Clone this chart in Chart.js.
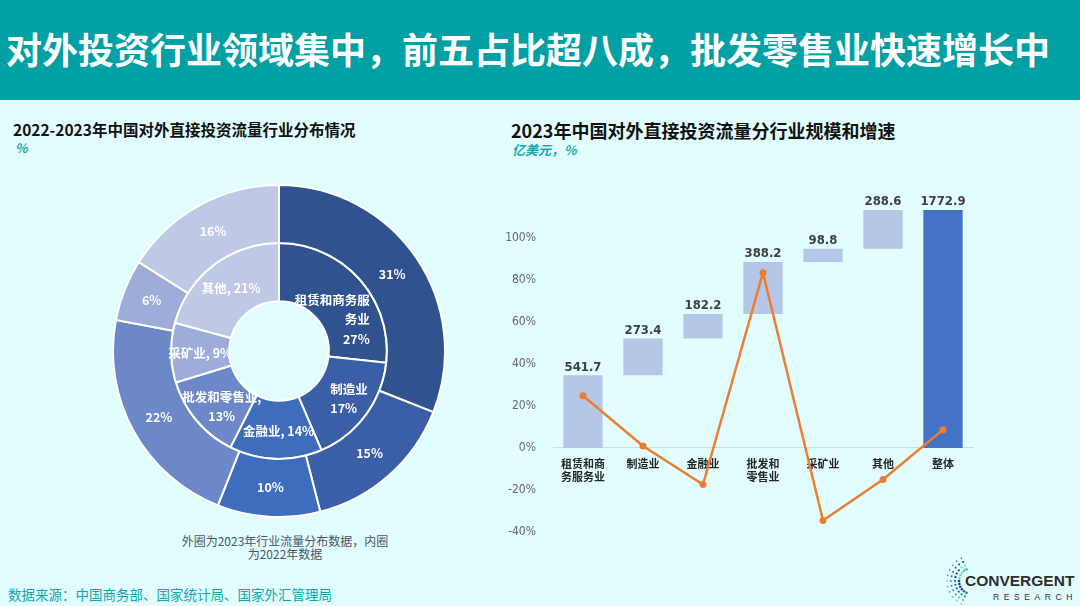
<!DOCTYPE html>
<html>
<head>
<meta charset="utf-8">
<script src="https://cdn.jsdelivr.net/npm/chart.js@4.4.1/dist/chart.umd.min.js"></script>
<style>
  body { margin: 0; width: 1080px; height: 606px; background: #e2fdfe; position: relative; overflow: hidden;
         font-family: "Noto Sans CJK SC", "Noto Sans", sans-serif; }
  .txt { position: absolute; white-space: nowrap; line-height: 1; }
  .header { position: absolute; left: 0; top: 0; width: 1080px; height: 100px; background: #00a0a4; }
  .title { font-size: 36px; font-weight: 700; color: #fff; left: 6px; top: 30px; }
  .ctitle { font-weight: 700; color: #111; }
  .csub { font-size: 13px; font-weight: 700; font-style: italic; color: #19a9ae; }
  .note { font-size: 12px; color: #4a5468; text-align: center; line-height: 13px; left: 160px; width: 250px; top: 534px; }
  .source { font-size: 13.5px; color: #12a6aa; left: 8px; top: 588px; }
  #pieBox { position: absolute; left: 112px; top: 184px; width: 334px; height: 334px; }
  #barBox { position: absolute; left: 490px; top: 172px; width: 490px; height: 384px; }
  .logo1 { font-family: "Liberation Sans", Arial, sans-serif; font-weight: 700; font-size: 15.5px; color: #2e2e2e; left: 965px; top: 573px; }
  .logo2 { font-family: "Liberation Sans", Arial, sans-serif; font-size: 8.5px; letter-spacing: 4.6px; color: #333; left: 993px; top: 593px; }
</style>
</head>
<body>
<div class="header"></div>
<div class="txt title">对外投资行业领域集中，前五占比超八成，批发零售业快速增长中</div>

<div class="txt ctitle" style="left:13px;top:122px;font-size:15.5px;">2022-2023年中国对外直接投资流量行业分布情况</div>
<div class="txt csub" style="left:15px;top:141px;">%</div>
<div class="txt ctitle" style="left:511px;top:121px;font-size:18px;">2023年中国对外直接投资流量分行业规模和增速</div>
<div class="txt csub" style="left:512px;top:143px;">亿美元，%</div>

<div id="pieBox"><canvas id="pie"></canvas></div>
<div id="barBox"><canvas id="bar"></canvas></div>

<div class="txt note">外圈为2023年行业流量分布数据，内圈<br>为2022年数据</div>
<div class="txt source">数据来源：中国商务部、国家统计局、国家外汇管理局</div>

<svg id="dots" style="position:absolute;left:940px;top:556px" width="40" height="50"></svg>
<div class="txt logo1">CONVERGENT</div>
<div class="txt logo2">RESEARCH</div>

<script>
// left: industry share of outward FDI flow (%)
const sectors = ['租赁和商务服务业', '制造业', '金融业', '批发和零售业', '采矿业', '其他'];
const share2023 = [31, 15, 10, 22, 6, 16];   // outer ring
const share2022 = [27, 17, 14, 13, 9, 21];   // inner ring
const sectorColors = ['#30528f', '#3a5fa6', '#3f6dbd', '#6c88c8', '#9eacd9', '#bfc8e5'];
// how the inner ring labels wrap, {v} is the value
const innerLabelText = ['租赁和商务服\n务业\n{v}%', '制造业\n{v}%', '金融业, {v}%', '批发和零售业,\n{v}%', '采矿业, {v}%', '其他, {v}%'];

// right: 2023 flow by industry (100m USD) and growth (%)
const barCategories = [['租赁和商', '务服务业'], '制造业', '金融业', ['批发和', '零售业'], '采矿业', '其他', '整体'];
const flow2023 = [541.7, 273.4, 182.2, 388.2, 98.8, 288.6, 1772.9];
const growth2023 = [24.9, 0.9, -17.5, 83.5, -34.6, -15.1, 8.7];
const pctTicks = [-40, -20, 0, 20, 40, 60, 80, 100];

const CJK = '"Noto Sans CJK SC", "Noto Sans", sans-serif';
const NARROW = '"Liberation Sans Narrow", "DejaVu Sans Condensed", sans-serif';

// ---------- doughnut ----------
const ringLabels = {
    id: 'ringLabels',
    afterDatasetsDraw(chart, args, opts) {
        const ctx = chart.ctx;
        ctx.save();
        ctx.fillStyle = '#fff';
        ctx.font = 'bold 12.5px ' + CJK;
        ctx.textBaseline = 'middle';
        // outer ring: just the value
        chart.getDatasetMeta(0).data.forEach((arc, i) => {
            const p = arc.tooltipPosition();
            ctx.textAlign = 'center';
            ctx.fillText(share2023[i] + '%', p.x, p.y);
        });
        // inner ring: name and value
        chart.getDatasetMeta(1).data.forEach((arc, i) => {
            const p = arc.tooltipPosition();
            const lines = innerLabelText[i].replace('{v}', share2022[i]).split('\n');
            const off = opts.offsets[i];
            ctx.textAlign = opts.align[i];
            const lh = 19.5;
            const y0 = p.y + off[1] - (lines.length - 1) * lh / 2;
            lines.forEach((t, k) => ctx.fillText(t, p.x + off[0], y0 + k * lh));
        });
        ctx.restore();
    }
};

new Chart(document.getElementById('pie'), {
    type: 'doughnut',
    data: {
        labels: sectors,
        datasets: [
            { label: '2023', data: share2023, backgroundColor: sectorColors, borderColor: '#fff', borderWidth: 2 },
            { label: '2022', data: share2022, backgroundColor: sectorColors, borderColor: '#fff', borderWidth: 2 }
        ]
    },
    options: {
        responsive: true,
        maintainAspectRatio: false,
        animation: false,
        cutout: '30%',
        layout: { padding: 0 },
        plugins: {
            legend: { display: false },
            tooltip: { enabled: false },
            ringLabels: {
                align: ['right', 'left', 'center', 'center', 'center', 'center'],
                offsets: [[32, 21], [-12, 1], [2, 1], [3, 5], [0, 1], [0, 0]]
            }
        }
    },
    plugins: [ringLabels]
});

// ---------- waterfall + growth line ----------
// floating bars: each industry stacks on the previous ones, total starts from 0
let running = 0;
const flowRanges = flow2023.map((v, i) => {
    if (i === flow2023.length - 1) return [0, v];
    const r = [running, running + v];
    running += v;
    return r;
});
const barColors = flow2023.map((v, i) => i === flow2023.length - 1 ? '#4472c4' : '#b4c7e7');

const barValueLabels = {
    id: 'barValueLabels',
    afterDatasetsDraw(chart) {
        const ctx = chart.ctx;
        const meta = chart.getDatasetMeta(1);
        ctx.save();
        ctx.fillStyle = '#404040';
        ctx.font = 'bold 13px ' + NARROW;
        ctx.textAlign = 'center';
        ctx.textBaseline = 'middle';
        meta.data.forEach((bar, i) => {
            ctx.fillText(flow2023[i].toFixed(1), bar.x, bar.y - 8);
        });
        ctx.restore();
    }
};

new Chart(document.getElementById('bar'), {
    data: {
        labels: barCategories,
        datasets: [
            {
                type: 'line',
                label: '增速',
                data: growth2023,
                yAxisID: 'y',
                borderColor: '#ed7d31',
                borderWidth: 2.5,
                pointRadius: 3.5,
                pointBackgroundColor: '#ed7d31',
                pointBorderWidth: 0,
                tension: 0,
                order: 0
            },
            {
                type: 'bar',
                label: '规模',
                data: flowRanges,
                yAxisID: 'y2',
                backgroundColor: barColors,
                categoryPercentage: 1,
                barPercentage: 0.655,
                order: 1
            }
        ]
    },
    options: {
        responsive: true,
        maintainAspectRatio: false,
        animation: false,
        layout: { padding: { top: 0, bottom: 9, right: 7, left: 0 } },
        plugins: {
            legend: { display: false },
            tooltip: { enabled: false }
        },
        scales: {
            x: {
                position: { y: 0 },
                grid: { display: false, drawTicks: false },
                border: { display: true, color: '#d9d9d9', width: 1 },
                ticks: {
                    padding: 10,
                    maxRotation: 0,
                    autoSkip: false,
                    color: '#262626',
                    font: { family: CJK, size: 11, weight: 'bold', lineHeight: 1.15 }
                }
            },
            y: {
                min: -40,
                max: 120,
                grid: { display: false, drawTicks: false },
                border: { display: false },
                afterBuildTicks: s => { s.ticks = pctTicks.map(v => ({ value: v })); },
                afterFit: s => { s.width = 63; },
                ticks: {
                    padding: 17,
                    color: '#666',
                    font: { family: NARROW, size: 12 },
                    callback: v => v + '%'
                }
            },
            y2: {
                display: false,
                min: -625,
                max: 1875
            }
        }
    },
    plugins: [barValueLabels]
});

// logo dots
const svg = document.getElementById('dots');
const dotColors = ['#1b3f8f', '#2a6fb5', '#1f9fb8', '#3cc0a8', '#7fd6b0'];
[13, 17, 21, 25].forEach((r, row) => {
    for (let a = 115; a <= 250; a += 13) {
        const rad = a * Math.PI / 180;
        const c = document.createElementNS('http://www.w3.org/2000/svg', 'circle');
        c.setAttribute('cx', 32 + r * Math.cos(rad));
        c.setAttribute('cy', 25 - r * Math.sin(rad));
        c.setAttribute('r', 1.3 - row * 0.15);
        c.setAttribute('fill', dotColors[(row + Math.round(a / 40)) % dotColors.length]);
        svg.appendChild(c);
    }
});
</script>
</body>
</html>
